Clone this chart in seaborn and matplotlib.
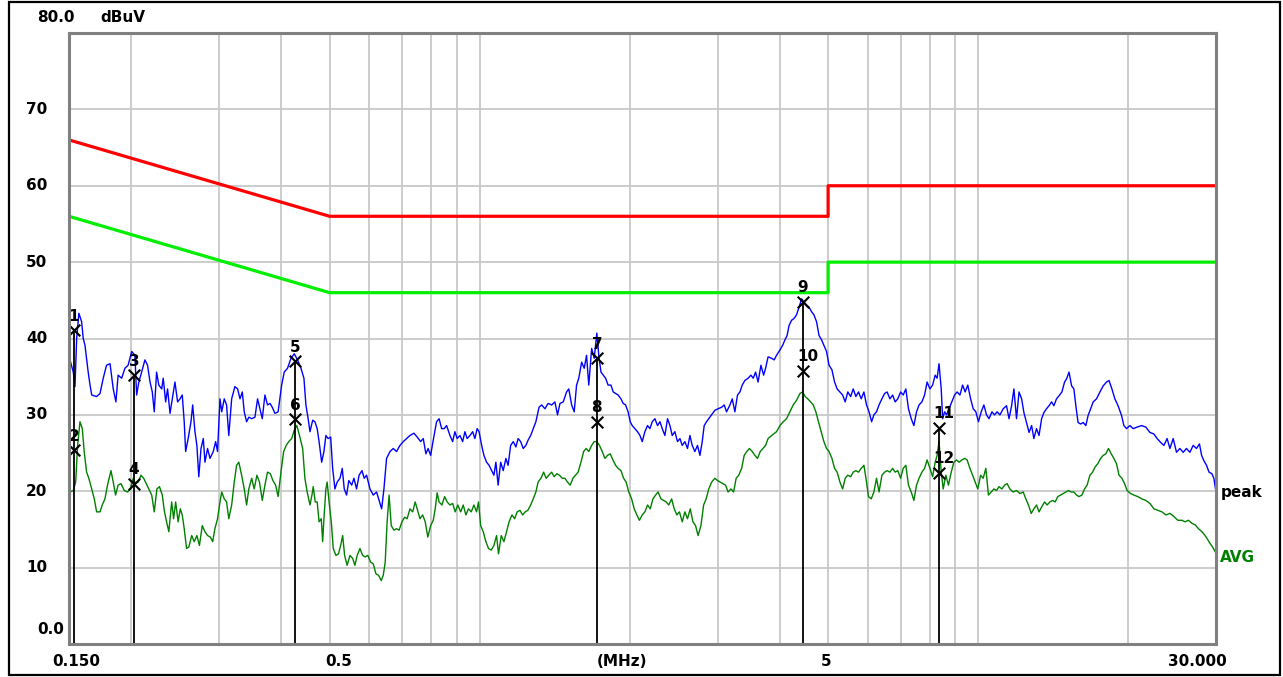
import numpy as np
import pandas as pd
import matplotlib
matplotlib.use("Agg")
import matplotlib.pyplot as plt
import matplotlib.transforms as mtransforms
from matplotlib.patches import Rectangle
from matplotlib.ticker import FixedLocator, NullLocator, NullFormatter
import seaborn as sns

# ---------------- data ----------------
peak_freq = [
    0.1507, 0.1530, 0.1542, 0.1554, 0.1570, 0.1590, 0.1602, 0.1615, 0.1627, 0.1639,
    0.1653, 0.1666, 0.1704, 0.1731, 0.1757, 0.1784, 0.1813, 0.1840, 0.1863, 0.1882,
    0.1913, 0.1942, 0.1971, 0.2004, 0.2034, 0.2050, 0.2071, 0.2098, 0.2130, 0.2156,
    0.2181, 0.2204, 0.2224, 0.2248, 0.2271, 0.2302, 0.2318, 0.2344, 0.2365, 0.2392,
    0.2417, 0.2447, 0.2477, 0.2505, 0.2531, 0.2554, 0.2571, 0.2601, 0.2635, 0.2656,
    0.2684, 0.2708, 0.2732, 0.2760, 0.2789, 0.2811, 0.2845, 0.2877, 0.2921, 0.2953,
    0.2979, 0.3013, 0.3037, 0.3073, 0.3106, 0.3138, 0.3180, 0.3228, 0.3268, 0.3305,
    0.3340, 0.3370, 0.3407, 0.3442, 0.3488, 0.3541, 0.3584, 0.3624, 0.3663, 0.3708,
    0.3753, 0.3796, 0.3836, 0.3883, 0.3941, 0.4006, 0.4054, 0.4116, 0.4182, 0.4246,
    0.4311, 0.4380, 0.4440, 0.4481, 0.4527, 0.4566, 0.4623, 0.4671, 0.4720, 0.4762,
    0.4819, 0.4870, 0.4914, 0.4965, 0.5024, 0.5070, 0.5123, 0.5177, 0.5245, 0.5300,
    0.5349, 0.5407, 0.5463, 0.5536, 0.5594, 0.5662, 0.5728, 0.5805, 0.5866, 0.5930,
    0.6024, 0.6116, 0.6210, 0.6283, 0.6358, 0.6425, 0.6504, 0.6607, 0.6708, 0.6811,
    0.6919, 0.7025, 0.7133, 0.7246, 0.7380, 0.7491, 0.7613, 0.7705, 0.7799, 0.7880,
    0.7973, 0.8069, 0.8194, 0.8289, 0.8389, 0.8489, 0.8581, 0.8717, 0.8825, 0.8918,
    0.9011, 0.9129, 0.9243, 0.9340, 0.9437, 0.9560, 0.9680, 0.9781, 0.9883, 0.9971,
    1.0091, 1.0197, 1.0322, 1.0442, 1.0568, 1.0679, 1.0776, 1.0888, 1.1017, 1.1149,
    1.1286, 1.1402, 1.1537, 1.1676, 1.1819, 1.1941, 1.2083, 1.2228, 1.2378, 1.2506,
    1.2654, 1.2806, 1.2963, 1.3155, 1.3313, 1.3515, 1.3716, 1.3943, 1.4154, 1.4326,
    1.4488, 1.4709, 1.4936, 1.5091, 1.5292, 1.5474, 1.5643, 1.5804, 1.6015, 1.6206,
    1.6382, 1.6551, 1.6772, 1.6972, 1.7179, 1.7333, 1.7509, 1.7694, 1.7887, 1.8096,
    1.8336, 1.8530, 1.8733, 1.8952, 1.9203, 1.9406, 1.9618, 1.9848, 2.0046, 2.0231,
    2.0480, 2.0730, 2.0965, 2.1188, 2.1449, 2.1711, 2.1956, 2.2189, 2.2463, 2.2737,
    2.2994, 2.3238, 2.3525, 2.3812, 2.4080, 2.4336, 2.4636, 2.4937, 2.5218, 2.5486,
    2.5800, 2.6115, 2.6410, 2.6691, 2.7020, 2.7349, 2.7659, 2.7953, 2.8208, 2.8515,
    2.8809, 2.9194, 2.9636, 3.0078, 3.0574, 3.0939, 3.1275, 3.1770, 3.2108, 3.2504,
    3.2900, 3.3272, 3.3626, 3.4041, 3.4548, 3.5006, 3.5376, 3.5763, 3.6181, 3.6661,
    3.7116, 3.7453, 3.7891, 3.8518, 3.8977, 3.9401, 4.0025, 4.0524, 4.0950, 4.1375,
    4.1745, 4.2246, 4.2692, 4.3214, 4.3718, 4.4243, 4.4709, 4.5257, 4.5784, 4.6335,
    4.6824, 4.7397, 4.7949, 4.8525, 4.9037, 4.9637, 5.0216, 5.0889, 5.1518, 5.2124,
    5.2807, 5.3466, 5.4100, 5.4759, 5.5482, 5.6146, 5.6836, 5.7526, 5.8266, 5.8988,
    5.9711, 6.0406, 6.1130, 6.1775, 6.2531, 6.3260, 6.4108, 6.4900, 6.5663, 6.6524,
    6.7354, 6.8153, 6.8983, 6.9894, 7.0731, 7.1600, 7.2469, 7.3400, 7.4310, 7.5220,
    7.6097, 7.7118, 7.8071, 7.8989, 8.0024, 8.1022, 8.1984, 8.2723, 8.3462, 8.4310,
    8.4852, 8.5627, 8.6401, 8.7408, 8.8580, 8.9675, 9.0729, 9.1918, 9.3065, 9.4169,
    9.5315, 9.6575, 9.7732, 9.8933, 10.013, 10.142, 10.267, 10.393, 10.514, 10.656,
    10.787, 10.914, 11.057, 11.226, 11.399, 11.532, 11.671, 11.794, 11.938, 12.078,
    12.223, 12.352, 12.503, 12.651, 12.800, 12.935, 13.093, 13.246, 13.405, 13.547,
    13.713, 13.873, 14.039, 14.187, 14.361, 14.529, 14.723, 14.905, 15.040, 15.215,
    15.398, 15.560, 15.702, 15.864, 16.052, 16.244, 16.443, 16.614, 16.811, 17.012,
    17.276, 17.549, 17.817, 18.092, 18.303, 18.548, 18.803, 19.083, 19.398, 19.603,
    19.843, 20.157, 20.464, 20.837, 21.276, 21.695, 22.108, 22.517, 22.854, 23.228,
    23.581, 23.934, 24.247, 24.617, 24.997, 25.393, 25.780, 26.179, 26.594, 26.999,
    27.417, 27.791, 28.070, 28.366, 28.713, 29.048, 29.437, 29.707, 30.000,
]
peak_level = [
    37.2, 35.6, 33.7, 40.0, 43.3, 42.2, 40.0, 39.1, 37.4, 35.6,
    33.9, 32.6, 32.4, 32.8, 34.8, 36.5, 36.7, 33.4, 31.7, 35.2,
    34.8, 36.1, 36.5, 38.3, 37.8, 32.6, 34.3, 35.6, 37.2, 36.5,
    34.3, 33.0, 30.4, 35.6, 33.9, 33.4, 34.8, 31.7, 33.4, 30.2,
    32.1, 34.3, 31.7, 32.1, 32.6, 29.1, 25.2, 26.9, 29.1, 31.3,
    27.8, 26.0, 21.9, 25.6, 26.9, 23.8, 25.6, 24.3, 25.2, 26.5,
    25.2, 32.1, 30.4, 32.1, 31.3, 27.3, 32.1, 33.7, 33.4, 32.1,
    33.0, 30.4, 29.1, 29.7, 29.5, 29.7, 32.1, 30.8, 29.5, 32.6,
    31.3, 31.5, 31.0, 30.2, 30.4, 33.9, 35.6, 36.1, 37.4, 38.0,
    37.2, 36.1, 34.8, 31.3, 29.5, 27.8, 29.3, 29.1, 28.2, 26.5,
    23.8, 25.2, 27.3, 26.9, 27.1, 23.0, 20.3, 21.2, 21.7, 23.0,
    20.3, 19.5, 21.4, 20.8, 21.7, 20.3, 22.1, 22.7, 21.7, 22.1,
    20.3, 19.5, 19.9, 18.8, 17.7, 20.3, 24.3, 25.2, 25.6, 25.2,
    26.0, 26.5, 26.9, 27.3, 27.6, 27.1, 26.5, 26.9, 24.9, 25.6,
    24.7, 26.7, 29.1, 29.5, 28.2, 28.2, 28.6, 27.3, 26.5, 27.8,
    26.9, 27.3, 26.5, 27.8, 26.9, 27.3, 27.8, 26.9, 28.2, 27.8,
    26.0, 24.7, 23.8, 23.4, 22.7, 22.1, 23.8, 20.8, 23.8, 22.7,
    24.3, 23.4, 26.0, 26.5, 25.8, 26.9, 26.5, 25.6, 26.0, 26.7,
    27.3, 28.2, 29.1, 31.0, 31.3, 30.8, 31.5, 31.3, 31.7, 30.0,
    31.5, 31.7, 33.0, 33.4, 31.3, 30.4, 33.9, 34.8, 36.9, 36.1,
    37.8, 33.9, 38.7, 37.4, 40.7, 37.8, 35.6, 35.2, 34.8, 33.9,
    33.9, 33.0, 32.8, 32.6, 32.1, 31.5, 31.3, 30.4, 29.1, 28.6,
    28.2, 27.8, 27.3, 26.5, 27.8, 28.6, 28.2, 29.1, 29.5, 28.6,
    29.1, 28.2, 27.3, 29.5, 28.6, 27.3, 27.8, 26.5, 26.9, 26.0,
    26.5, 25.6, 27.3, 26.0, 25.2, 26.0, 24.7, 26.5, 28.6, 29.1,
    29.5, 30.0, 30.6, 30.8, 31.0, 31.3, 30.4, 31.3, 32.1, 30.4,
    32.6, 33.0, 33.9, 34.5, 34.8, 35.2, 34.8, 35.6, 34.3, 36.5,
    35.2, 36.1, 37.6, 37.4, 37.2, 37.8, 38.5, 39.1, 39.8, 40.4,
    41.7, 42.4, 42.6, 43.1, 44.1, 45.2, 44.8, 44.4, 44.1, 43.5,
    43.1, 42.2, 40.4, 39.8, 39.1, 38.3, 36.5, 35.9, 34.3, 33.4,
    33.0, 32.6, 31.7, 33.0, 32.4, 33.4, 32.4, 33.0, 32.1, 33.0,
    31.3, 30.4, 29.1, 30.0, 30.4, 31.3, 32.1, 32.8, 33.0, 32.1,
    32.6, 31.7, 32.1, 33.0, 32.6, 33.4, 30.8, 29.5, 28.6, 30.4,
    31.3, 31.7, 32.6, 34.3, 33.4, 33.9, 35.2, 34.8, 36.7, 33.4,
    29.5, 30.4, 30.0, 30.8, 31.7, 32.6, 33.0, 32.6, 33.9, 33.0,
    33.9, 32.1, 30.8, 30.4, 29.1, 30.4, 31.3, 30.0, 29.5, 30.4,
    30.0, 30.4, 30.0, 30.8, 31.2, 29.5, 31.2, 33.4, 29.5, 33.0,
    32.1, 30.3, 29.0, 27.7, 28.6, 26.9, 28.2, 27.3, 29.5, 30.3,
    30.8, 31.2, 31.7, 31.2, 32.1, 32.5, 33.0, 34.3, 34.7, 35.6,
    33.8, 33.4, 31.2, 29.0, 28.8, 29.0, 28.6, 29.9, 30.8, 31.7,
    32.1, 33.0, 33.8, 34.3, 34.5, 33.4, 32.1, 31.2, 29.9, 28.6,
    28.2, 28.6, 28.2, 28.4, 28.6, 28.4, 27.7, 27.5, 26.9, 26.4,
    26.0, 26.9, 25.6, 26.9, 25.1, 25.6, 25.1, 25.6, 25.1, 26.0,
    25.6, 26.2, 24.7, 24.0, 23.4, 22.5, 22.3, 21.7, 19.9,
]

avg_freq = [
    0.1507, 0.1530, 0.1547, 0.1561, 0.1578, 0.1595, 0.1609, 0.1627, 0.1644, 0.1666,
    0.1686, 0.1704, 0.1731, 0.1749, 0.1771, 0.1792, 0.1821, 0.1840, 0.1860, 0.1882,
    0.1907, 0.1936, 0.1966, 0.1991, 0.2018, 0.2040, 0.2064, 0.2092, 0.2118, 0.2143,
    0.2169, 0.2198, 0.2224, 0.2251, 0.2278, 0.2308, 0.2329, 0.2354, 0.2379, 0.2410,
    0.2432, 0.2455, 0.2483, 0.2508, 0.2531, 0.2554, 0.2582, 0.2609, 0.2644, 0.2675,
    0.2708, 0.2740, 0.2776, 0.2811, 0.2845, 0.2881, 0.2913, 0.2943, 0.2979, 0.3013,
    0.3037, 0.3073, 0.3106, 0.3138, 0.3180, 0.3218, 0.3253, 0.3287, 0.3330, 0.3370,
    0.3407, 0.3442, 0.3488, 0.3529, 0.3573, 0.3616, 0.3663, 0.3708, 0.3753, 0.3801,
    0.3848, 0.3896, 0.3941, 0.3993, 0.4043, 0.4091, 0.4140, 0.4196, 0.4246, 0.4297,
    0.4350, 0.4414, 0.4460, 0.4507, 0.4566, 0.4608, 0.4635, 0.4678, 0.4720, 0.4762,
    0.4810, 0.4841, 0.4870, 0.4914, 0.4943, 0.4987, 0.5038, 0.5084, 0.5147, 0.5209,
    0.5261, 0.5310, 0.5358, 0.5421, 0.5492, 0.5561, 0.5619, 0.5678, 0.5752, 0.5824,
    0.5893, 0.5965, 0.6043, 0.6116, 0.6191, 0.6266, 0.6346, 0.6405, 0.6463, 0.6521,
    0.6580, 0.6646, 0.6729, 0.6811, 0.6891, 0.6983, 0.7069, 0.7152, 0.7246, 0.7337,
    0.7424, 0.7491, 0.7589, 0.7683, 0.7775, 0.7869, 0.7973, 0.8069, 0.8142, 0.8216,
    0.8289, 0.8400, 0.8504, 0.8604, 0.8717, 0.8825, 0.8930, 0.9039, 0.9158, 0.9268,
    0.9382, 0.9496, 0.9618, 0.9737, 0.9856, 0.9945, 1.0045, 1.0165, 1.0290, 1.0415,
    1.0548, 1.0679, 1.0810, 1.0907, 1.1047, 1.1184, 1.1321, 1.1453, 1.1607, 1.1750,
    1.1888, 1.2044, 1.2194, 1.2339, 1.2489, 1.2654, 1.2806, 1.2963, 1.3097, 1.3271,
    1.3435, 1.3594, 1.3759, 1.3943, 1.4109, 1.4281, 1.4454, 1.4642, 1.4823, 1.5003,
    1.5194, 1.5383, 1.5573, 1.5755, 1.5963, 1.6162, 1.6352, 1.6551, 1.6772, 1.6972,
    1.7179, 1.7387, 1.7613, 1.7831, 1.8048, 1.8277, 1.8505, 1.8733, 1.8952, 1.9203,
    1.9442, 1.9671, 1.9910, 2.0175, 2.0416, 2.0665, 2.0915, 2.1188, 2.1449, 2.1711,
    2.1986, 2.2260, 2.2534, 2.2798, 2.3100, 2.3387, 2.3663, 2.3950, 2.4269, 2.4558,
    2.4859, 2.5159, 2.5486, 2.5800, 2.6115, 2.6447, 2.6776, 2.7105, 2.7423, 2.7787,
    2.8132, 2.8464, 2.8809, 2.9194, 2.9636, 2.9997, 3.0378, 3.0756, 3.1135, 3.1499,
    3.1917, 3.2313, 3.2695, 3.3091, 3.3533, 3.3933, 3.4348, 3.4763, 3.5215, 3.5650,
    3.6085, 3.6543, 3.7000, 3.7453, 3.7891, 3.8518, 3.9401, 4.0025, 4.0635, 4.1264,
    4.1917, 4.2556, 4.3214, 4.3898, 4.4446, 4.4973, 4.5521, 4.6123, 4.6675, 4.7248,
    4.7822, 4.8436, 4.9037, 4.9637, 5.0216, 5.0889, 5.1518, 5.2124, 5.2807, 5.3466,
    5.4100, 5.4759, 5.5482, 5.6146, 5.6836, 5.7526, 5.8266, 5.8988, 5.9711, 6.0246,
    6.1018, 6.1775, 6.2531, 6.3260, 6.4108, 6.4900, 6.5663, 6.6524, 6.7354, 6.8153,
    6.8983, 6.9894, 7.0731, 7.1600, 7.2469, 7.3400, 7.4310, 7.5220, 7.6097, 7.7118,
    7.8071, 7.8989, 8.0024, 8.1022, 8.1984, 8.2723, 8.3462, 8.4310, 8.5085, 8.6129,
    8.7175, 8.8296, 8.9391, 9.0486, 9.1540, 9.2767, 9.3914, 9.5018, 9.6264, 9.7465,
    9.8621, 9.9822, 10.114, 10.235, 10.361, 10.486, 10.621, 10.753, 10.885, 11.012,
    11.159, 11.297, 11.430, 11.580, 11.757, 11.938, 12.128, 12.313, 12.464, 12.615,
    12.776, 12.935, 13.093, 13.246, 13.424, 13.590, 13.750, 13.930, 14.104, 14.271,
    14.445, 14.635, 14.810, 14.992, 15.174, 15.370, 15.560, 15.751, 15.934, 16.148,
    16.347, 16.540, 16.757, 16.966, 17.167, 17.376, 17.606, 17.817, 18.035, 18.254,
    18.488, 18.718, 18.947, 19.168, 19.425, 19.665, 19.896, 20.222, 20.530, 20.902,
    21.305, 21.695, 22.108, 22.517, 22.925, 23.367, 23.795, 24.247, 24.695, 25.143,
    25.628, 26.015, 26.414, 26.840, 27.245, 27.663, 28.108, 28.456, 28.790, 29.168,
    29.532, 30.000,
]
avg_level = [
    19.9, 20.1, 21.2, 26.0, 29.1, 28.2, 25.2, 22.5, 21.7, 20.3,
    19.0, 17.3, 17.3, 18.2, 19.0, 20.8, 22.7, 21.2, 19.5, 20.8,
    21.0, 20.1, 19.9, 20.3, 21.7, 21.0, 21.2, 22.1, 21.7, 21.0,
    20.3, 19.5, 17.3, 20.3, 20.6, 19.5, 17.5, 16.0, 14.7, 18.6,
    16.4, 18.6, 16.0, 17.7, 16.9, 15.1, 12.5, 12.7, 14.2, 13.4,
    14.2, 12.9, 15.5, 14.7, 14.2, 14.0, 13.4, 15.1, 16.4, 18.6,
    19.9, 19.0, 18.6, 16.4, 18.2, 21.2, 23.4, 23.8, 22.1, 20.3,
    18.2, 20.3, 21.7, 20.3, 22.1, 21.2, 18.8, 20.8, 22.5, 22.3,
    21.4, 20.8, 19.3, 22.5, 25.2, 26.0, 26.5, 26.9, 28.0, 28.6,
    27.3, 25.6, 21.7, 19.9, 18.2, 19.5, 20.6, 18.6, 18.6, 16.0,
    16.4, 13.4, 16.4, 20.3, 21.2, 18.6, 16.0, 12.5, 11.6, 11.8,
    12.9, 14.2, 11.6, 10.3, 11.6, 11.2, 10.3, 11.6, 12.5, 11.6,
    11.4, 11.6, 10.7, 10.5, 9.2, 9.0, 8.3, 9.0, 10.7, 16.0,
    19.5, 15.5, 14.9, 15.1, 14.9, 16.0, 16.6, 16.4, 17.7, 17.3,
    18.6, 17.7, 16.4, 16.9, 16.0, 14.0, 15.5, 16.2, 17.7, 19.8,
    18.6, 18.2, 19.3, 18.6, 18.2, 18.4, 17.3, 18.2, 17.3, 18.2,
    16.9, 17.7, 17.3, 18.2, 17.3, 18.6, 15.5, 14.7, 13.4, 12.5,
    12.3, 12.9, 14.2, 11.8, 14.2, 13.4, 14.7, 16.0, 16.9, 16.4,
    17.3, 17.5, 16.9, 17.3, 17.5, 18.2, 19.0, 19.9, 21.2, 21.7,
    22.5, 21.7, 22.1, 22.5, 21.9, 22.3, 22.1, 21.7, 21.7, 21.2,
    20.8, 21.7, 22.1, 22.5, 23.8, 25.2, 25.6, 25.2, 26.0, 26.5,
    26.5, 26.0, 25.2, 24.3, 24.7, 24.9, 24.1, 23.4, 23.0, 22.7,
    21.7, 21.2, 19.9, 19.0, 17.7, 16.9, 16.2, 16.9, 17.3, 18.2,
    17.7, 19.0, 19.5, 19.9, 19.0, 18.8, 18.6, 18.2, 19.0, 17.7,
    16.9, 17.3, 16.0, 17.3, 16.4, 17.7, 16.0, 15.5, 14.2, 15.5,
    18.2, 19.0, 20.3, 21.2, 21.7, 21.4, 21.2, 21.0, 20.8, 19.9,
    20.3, 19.9, 21.7, 22.1, 23.0, 24.7, 25.2, 25.6, 25.2, 24.7,
    24.3, 25.2, 25.6, 26.0, 26.9, 27.3, 27.8, 28.6, 29.1, 29.5,
    30.4, 31.3, 31.9, 32.8, 33.0, 32.4, 32.1, 31.7, 31.3, 30.4,
    29.1, 27.8, 26.5, 25.6, 25.2, 24.3, 23.0, 22.5, 21.2, 20.3,
    21.7, 22.1, 21.9, 22.5, 22.7, 22.5, 23.0, 23.4, 21.2, 19.3,
    19.0, 19.9, 21.7, 19.9, 22.1, 22.5, 22.7, 22.5, 23.0, 22.5,
    22.7, 21.7, 23.0, 23.4, 20.8, 19.9, 18.8, 20.8, 21.7, 22.5,
    23.0, 24.1, 23.0, 21.9, 23.8, 24.7, 26.5, 22.5, 20.3, 22.1,
    20.8, 22.5, 23.8, 24.1, 23.8, 24.1, 24.3, 24.1, 23.0, 22.1,
    21.2, 20.3, 22.1, 21.7, 23.0, 19.5, 19.9, 20.3, 20.1, 20.6,
    20.3, 20.8, 21.0, 20.3, 19.9, 20.1, 19.7, 19.9, 19.0, 18.2,
    17.1, 17.7, 18.2, 17.3, 18.0, 18.6, 18.2, 18.6, 18.8, 18.6,
    19.3, 19.5, 19.7, 19.9, 20.1, 19.9, 19.9, 19.5, 19.3, 19.5,
    20.3, 20.8, 22.1, 22.5, 23.2, 23.6, 24.3, 24.7, 24.9, 25.6,
    24.9, 24.3, 23.6, 22.1, 21.7, 21.0, 20.1, 19.7, 19.5, 19.3,
    19.0, 18.8, 18.4, 17.7, 17.5, 17.3, 16.9, 17.1, 16.7, 16.2,
    16.2, 16.0, 16.2, 15.8, 15.6, 15.1, 14.7, 14.3, 13.8, 13.2,
    12.7, 11.9,
]

limit_freq = [0.15, 0.5, 5.0, 5.0, 30.0]
qp_limit = [66, 56, 56, 60, 60]
avg_limit = [56, 46, 46, 50, 50]

marker_id = ["1", "2", "3", "4", "5", "6", "7", "8", "9", "10", "11", "12"]
marker_freq = [0.1535, 0.1535, 0.2025, 0.2025, 0.4259, 0.4259,
               1.718, 1.718, 4.451, 4.451, 8.335, 8.335]
marker_level = [41.1, 25.4, 35.2, 21.0, 37.0, 29.4,
                37.4, 29.1, 44.8, 35.8, 28.3, 22.4]

grid_freq = [0.2, 0.3, 0.4, 0.5, 0.6, 0.7, 0.8, 0.9, 1, 2, 3, 4, 5, 6, 7, 8, 9, 10, 20]
grid_level = [10, 20, 30, 40, 50, 60, 70]
y_labels = ["70", "60", "50", "40", "30", "20", "10"]
y_label_values = [70, 60, 50, 40, 30, 20, 10]

assert len(peak_freq) == len(peak_level)
assert len(avg_freq) == len(avg_level)

peak_df = pd.DataFrame({"freq": peak_freq, "level": peak_level})
avg_df = pd.DataFrame({"freq": avg_freq, "level": avg_level})
mk_df = pd.DataFrame({"id": marker_id, "freq": marker_freq, "level": marker_level})

# ---------------- figure ----------------
sns.set_theme(style="white")
plt.rcParams["font.family"] = ["DejaVu Sans"]

W, H = 1283, 677
fig = plt.figure(figsize=(W / 100, H / 100), dpi=100)
fig.patch.set_facecolor("white")
ax = fig.add_axes([69 / W, 1 - 644 / H, 1147 / W, 611 / H])
ax.set_facecolor("white")
ax.set_xscale("log")
ax.set_xlim(0.15, 30)
ax.set_ylim(0, 80)

ax.xaxis.set_major_locator(FixedLocator(grid_freq))
ax.xaxis.set_minor_locator(NullLocator())
ax.xaxis.set_major_formatter(NullFormatter())
ax.xaxis.set_minor_formatter(NullFormatter())
ax.yaxis.set_major_locator(FixedLocator(grid_level))
ax.yaxis.set_major_formatter(NullFormatter())
ax.tick_params(length=0)
ax.grid(True, color="#c8c8c8", lw=1.3, zorder=0)
ax.set_axisbelow(True)
for s in ax.spines.values():
    s.set_color("#808080")
    s.set_linewidth(2.2)
    s.set_zorder(10)
ax.set_xlabel("")
ax.set_ylabel("")

# limit lines
sns.lineplot(x=limit_freq, y=qp_limit, sort=False, estimator=None,
             color="#ff0000", lw=2.3, ax=ax, zorder=2)
sns.lineplot(x=limit_freq, y=avg_limit, sort=False, estimator=None,
             color="#00ee00", lw=2.3, ax=ax, zorder=2)

# traces
sns.lineplot(data=avg_df, x="freq", y="level", sort=False, estimator=None,
             color="#008000", lw=1.0, ax=ax, zorder=3)
sns.lineplot(data=peak_df, x="freq", y="level", sort=False, estimator=None,
             color="#0000ff", lw=1.0, ax=ax, zorder=3)

# marker stems
tops = mk_df.groupby("freq")["level"].max()
ax.vlines(tops.index.values, 0, tops.values, color="black", lw=1.3, zorder=4)
sns.scatterplot(data=mk_df, x="freq", y="level", marker="x", color="black",
                s=70, linewidth=1.5, ax=ax, zorder=5, legend=False)
for _, r in mk_df.iterrows():
    dx = 5 if len(r["id"]) > 1 else 0
    ax.annotate(r["id"], (r["freq"], r["level"]), xytext=(dx, 14),
                textcoords="offset pixels", ha="center", va="center",
                fontsize=11, fontweight="bold", color="black", zorder=6)
ax.set_xlabel("")
ax.set_ylabel("")

# axis texts
bold = dict(fontsize=11, fontweight="bold", color="black")
yt = mtransforms.blended_transform_factory(fig.transFigure, ax.transData)
for lab, v in zip(y_labels, y_label_values):
    ax.text(26 / W, v, lab, transform=yt, ha="left", va="center", **bold)


def ftext(x, y, s, **kw):
    fig.text(x / W, 1 - y / H, s, **kw)


ftext(37, 18, "80.0", ha="left", va="center", **bold)
ftext(100, 18, "dBuV", ha="left", va="center", **bold)
ftext(37, 629, "0.0", ha="left", va="center", **bold)
ftext(76, 661, "0.150", ha="center", va="center", **bold)
ftext(339, 661, "0.5", ha="center", va="center", **bold)
ftext(622, 661, "(MHz)", ha="center", va="center", **bold)
ftext(826, 661, "5", ha="center", va="center", **bold)
ftext(1197, 661, "30.000", ha="center", va="center", **bold)
ftext(1221, 493, "peak", ha="left", va="center", **bold)
ftext(1220, 557, "AVG", ha="left", va="center", fontsize=11,
      fontweight="bold", color="#008000")

fig.add_artist(Rectangle((9 / W, 2 / H), 1271 / W, 673 / H,
                         transform=fig.transFigure, fill=False,
                         ec="black", lw=1.6))

fig.savefig("out.png", dpi=100)
